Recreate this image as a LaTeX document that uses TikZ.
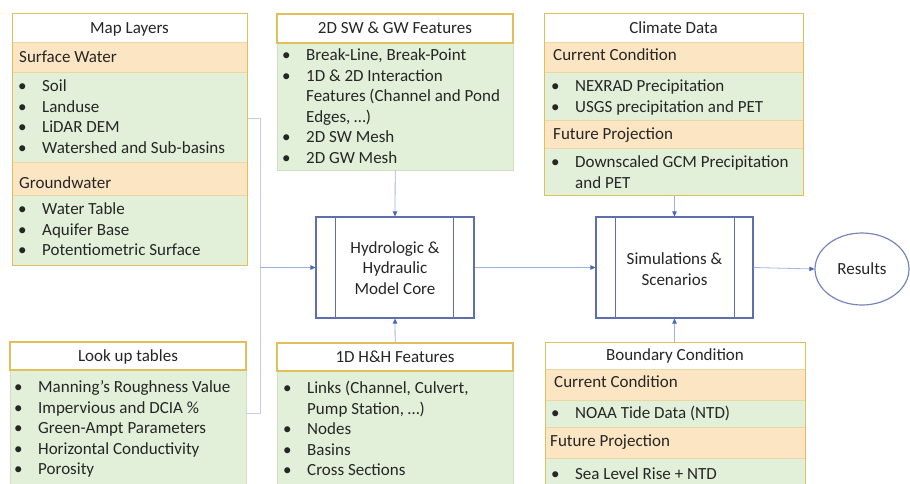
\documentclass[tikz,border=0pt]{standalone}
\usepackage{fontspec}
\setmainfont{Carlito}
\usetikzlibrary{arrows.meta,calc,shapes.geometric}

\definecolor{gold}{HTML}{E2BF5A}
\definecolor{hdr}{HTML}{FCE5C3}
\definecolor{leaf}{HTML}{E2EFD9}
\definecolor{leafedge}{HTML}{D3DFC2}
\definecolor{sep}{HTML}{EAD7A2}
\definecolor{ink}{HTML}{262626}
\definecolor{coreblue}{HTML}{5E6FAE}
\definecolor{wire}{HTML}{9FB4E2}
\definecolor{bracket}{HTML}{C8CAE9}
\definecolor{tipblue}{HTML}{4A68B8}

% filled band of a panel: [fill/draw options]{x1}{y1}{x2}{y2}
\newcommand\band[5][]{\path[draw=sep, line width=0.6pt, #1] (#2,#3) rectangle (#4,#5);}
% bulleted list, first line centred at y = #3; #2 is the bullet column's left edge
\newcommand\blist[4]{\node[listtxt] (#1) at (#2,#3-8.85)
  {\begin{tabular}{@{}p{24pt}@{}l@{}}#4\end{tabular}};}
\newcommand\bu{\textbullet}

\begin{document}
\begin{tikzpicture}[x=1pt, y=-1pt,
  txt/.style={text=ink, font=\fontsize{17}{20.5}\selectfont, inner sep=0pt},
  listtxt/.style={txt, anchor=north west},
  ttl/.style={txt, anchor=base},
  head/.style={txt, anchor=base west},
  panel/.style={draw=gold, line width=1.1pt, anchor=north west, inner sep=0pt},
  ghost/.style={anchor=north west, inner sep=0pt},
  corebox/.style={draw=coreblue, line width=1.2pt, inner sep=0pt, fill=white},
  wirearrow/.style={draw=wire, line width=0.8pt, -{Triangle[length=5pt, width=4.5pt, color=tipblue]}},
]
\useasboundingbox (0,0) rectangle (910,483);
\clip (0,0) rectangle (910,483);

% ---------------- Map Layers ----------------
\band[fill=white]{12}{13}{247}{42}
\band[fill=hdr]{12}{42}{247}{72}
\band[fill=leaf]{12}{72}{247}{162}
\band[fill=hdr]{12}{162}{247}{195}
\band[fill=leaf]{12}{195}{247}{265}
\node[panel, minimum width=235pt, minimum height=252pt] (map) at (12,13) {};
\node[ttl] (mapT) at (129.5,33.5) {Map Layers};
\node[head] (mapSW) at (19,62.5) {Surface Water};
\blist{mapL1}{18}{86}{\bu & Soil\\ \bu & Landuse\\ \bu & LiDAR DEM\\ \bu & Watershed and Sub-basins}
\node[head] (mapGW) at (19,188.5) {Groundwater};
\blist{mapL2}{18}{209}{\bu & Water Table\\ \bu & Aquifer Base\\ \bu & Potentiometric Surface}

% ---------------- 2D SW & GW Features ----------------
\node[ghost, minimum width=236pt, minimum height=156pt] (sw2d) at (277,14) {};
\band[fill=leaf, draw=leafedge]{277}{43}{513}{170}
\band[fill=white, draw=gold, line width=1.1pt]{277}{14}{513}{43}
\node[ttl] (sw2dT) at (395,33.5) {2D SW \& GW Features};
\blist{sw2dL}{282}{55}{\bu & Break-Line, Break-Point\\ \bu & 1D \& 2D Interaction\\
  & Features (Channel and Pond\\ & Edges, …)\\ \bu & 2D SW Mesh\\ \bu & 2D GW Mesh}

% ---------------- Climate Data ----------------
\band[fill=white]{544}{13}{803}{42}
\band[fill=hdr]{544}{42}{803}{72}
\band[fill=leaf]{544}{72}{803}{120}
\band[fill=hdr]{544}{120}{803}{148}
\band[fill=leaf]{544}{148}{803}{195}
\node[panel, minimum width=259pt, minimum height=182pt] (clim) at (544,13) {};
\node[ttl] (climT) at (673.5,33.5) {Climate Data};
\node[head] (climCC) at (553,60.5) {Current Condition};
\blist{climL1}{551}{86}{\bu & NEXRAD Precipitation\\ \bu & USGS precipitation and PET}
\node[head] (climFP) at (553,139.5) {Future Projection};
\blist{climL2}{551}{162}{\bu & Downscaled GCM Precipitation\\ & and PET}

% ---------------- Look up tables ----------------
\node[ghost, minimum width=236pt, minimum height=150pt] (look) at (10,342) {};
\band[fill=leaf, draw=leafedge]{10}{370}{246}{492}
\band[fill=white, draw=gold, line width=1.1pt]{10}{342}{246}{370}
\node[ttl] (lookT) at (128,361.5) {Look up tables};
\blist{lookL}{14}{387}{\bu & Manning’s Roughness Value\\ \bu & Impervious and DCIA \%\\
  \bu & Green-Ampt Parameters\\ \bu & Horizontal Conductivity\\ \bu & Porosity}

% ---------------- 1D H&H Features ----------------
\node[ghost, minimum width=236pt, minimum height=150pt] (hh1d) at (277,343) {};
\band[fill=leaf, draw=leafedge]{277}{371}{513}{492}
\band[fill=white, draw=gold, line width=1.1pt]{277}{343}{513}{371}
\node[ttl] (hh1dT) at (395,362.5) {1D H\&H Features};
\blist{hh1dL}{283}{388}{\bu & Links (Channel, Culvert,\\ & Pump Station, …)\\
  \bu & Nodes\\ \bu & Basins\\ \bu & Cross Sections}

% ---------------- Boundary Condition ----------------
\band[fill=white]{545}{342}{805}{369}
\band[fill=hdr]{545}{369}{805}{400}
\band[fill=leaf]{545}{400}{805}{427}
\band[fill=hdr]{545}{427}{805}{458}
\band[fill=leaf]{545}{458}{805}{492}
\node[panel, minimum width=260pt, minimum height=150pt] (bnd) at (545,342) {};
\node[ttl] (bndT) at (675,360.5) {Boundary Condition};
\node[head] (bndCC) at (554,387.5) {Current Condition};
\blist{bndL1}{551}{413}{\bu & NOAA Tide Data (NTD)}
\node[head] (bndFP) at (550,446.5) {Future Projection};
\blist{bndL2}{551}{474}{\bu & Sea Level Rise + NTD}

% ---------------- process boxes ----------------
\node[corebox, minimum width=158pt, minimum height=101pt] (core) at (395,267.5) {};
\draw[coreblue, line width=1.2pt]
  ($(core.north west)+(20,0)$) -- ($(core.south west)+(20,0)$)
  ($(core.north east)+(-21,0)$) -- ($(core.south east)+(-21,0)$);
\node[txt, align=center] (coreT) at (395,268) {Hydrologic \&\\Hydraulic\\Model Core};

\node[corebox, minimum width=157pt, minimum height=101pt] (sim) at (674.5,267.5) {};
\draw[coreblue, line width=1.2pt]
  ($(sim.north west)+(20,0)$) -- ($(sim.south west)+(20,0)$)
  ($(sim.north east)+(-19,0)$) -- ($(sim.south east)+(-19,0)$);
\node[txt, align=center] (simT) at (674.5,269) {Simulations \&\\Scenarios};

\node[ellipse, draw=coreblue!85, line width=1.2pt, minimum width=94pt, minimum height=72pt,
  inner sep=0pt, text=ink, font=\fontsize{17}{20.5}\selectfont] (res) at (862,269) {Results};

% ---------------- connectors ----------------
\coordinate (jt) at (260,118);
\coordinate (jm) at (260,267.5);
\coordinate (jb) at (260,413);
\draw[bracket, line width=0.9pt] (map.east |- jt) -- (jt) -- (jb) -- (look.east |- jb);
\draw[wirearrow] (jm) -- (core.west);
\draw[wirearrow] (sw2d.south) -- (core.north);
\draw[wirearrow] (hh1d.north) -- (core.south);
\draw[wirearrow] (core.east) -- (sim.west);
\draw[wirearrow] (clim.south -| sim.north) -- (sim.north);
\draw[wirearrow] (bnd.north -| sim.south) -- (sim.south);
\draw[wirearrow] (sim.east) -- (res.west);
\end{tikzpicture}
\end{document}
